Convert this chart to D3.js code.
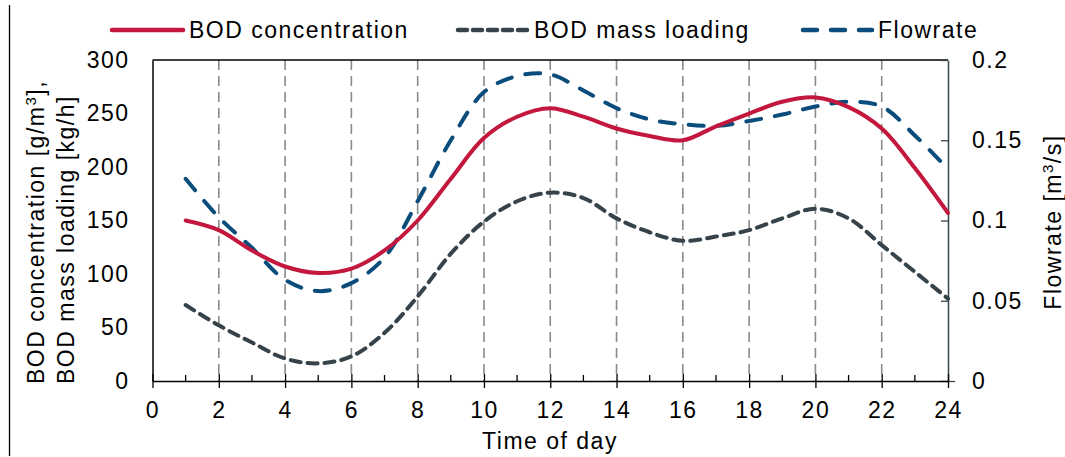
<!DOCTYPE html>
<html><head><meta charset="utf-8">
<script src="https://cdn.jsdelivr.net/npm/d3@7"></script>
<style>
body{margin:0;background:#fff;}
text{font-family:"Liberation Sans",Arial,sans-serif;fill:#000;letter-spacing:1.5px;}
</style></head>
<body><svg id="c" width="1065" height="457"></svg>
<script>
const hours = [1,2,3,4,5,6,7,8,9,10,11,12,13,14,15,16,17,18,19,20,21,22,23,24];
const bodConcentration = [150,141,122,107,101,105,122,150,189,227,247,255,247,236,229,225,238,250,261,265,256,236,199,157];
const bodMassLoading = [71,52,36,21,16.5,23,45,79,119,149,168,176,171,152,139,131,135,141,152,161,152,127,102,77];
const flowrate = [0.126,0.102,0.083,0.063,0.056,0.061,0.077,0.112,0.150,0.180,0.190,0.191,0.181,0.170,0.163,0.160,0.159,0.162,0.166,0.171,0.174,0.171,0.153,0.132];
const xTicks = [0,2,4,6,8,10,12,14,16,18,20,22,24];
const leftTicks = [0,50,100,150,200,250,300];
const rightTicks = [0,0.05,0.1,0.15,0.2];
const gridHours = [2,4,6,8,10,12,14,16,18,20,22];

const svg = d3.select("#c");
const L=152.5, R=948, T=60, B=381;
const x = d3.scaleLinear().domain([0,24]).range([L,R]);
const yL = d3.scaleLinear().domain([0,300]).range([B,T]);
const yR = d3.scaleLinear().domain([0,0.2]).range([B,T]);
const FS = 23;

// left frame line
svg.append("line").attr("x1",9.5).attr("x2",9.5).attr("y1",5).attr("y2",456).attr("stroke","#000").attr("stroke-width",1.3);

// grid
svg.append("g").selectAll("line").data(gridHours).join("line")
  .attr("x1",d=>x(d)).attr("x2",d=>x(d)).attr("y1",T).attr("y2",B)
  .attr("stroke","#8a8a8a").attr("stroke-width",1.6).attr("stroke-dasharray","10,6");

// top border
svg.append("line").attr("x1",L).attr("x2",R).attr("y1",T).attr("y2",T).attr("stroke","#000").attr("stroke-width",1.3);

// left axis
const gl = svg.append("g").attr("transform",`translate(${L},0)`)
  .call(d3.axisLeft(yL).tickValues(leftTicks).tickSize(0).tickPadding(23).tickFormat(d3.format("d")));
gl.select(".domain").attr("stroke","#000").attr("stroke-width",1.5);
gl.selectAll("text").style("font-size",FS+"px").style("font-family","Liberation Sans, Arial");

// right axis
const gr = svg.append("g").attr("transform",`translate(${R},0)`)
  .call(d3.axisRight(yR).tickValues(rightTicks).tickSize(0).tickPadding(24).tickFormat(d=>d===0?"0":String(+d.toFixed(2))));
gr.select(".domain").attr("stroke","#37444c").attr("stroke-width",1.5);
gr.selectAll("text").style("font-size",FS+"px").style("font-family","Liberation Sans, Arial");
gr.selectAll(".tick").append("line").attr("x1",-7).attr("x2",d=>d===0?7:0).attr("stroke","#37444c").attr("stroke-width",1.3);

// bottom axis
const gb = svg.append("g").attr("transform",`translate(0,${B})`)
  .call(d3.axisBottom(x).tickValues(xTicks).tickSize(0).tickPadding(21).tickFormat(d3.format("d")));
gb.select(".domain").attr("stroke","#000").attr("stroke-width",1.5);
gb.selectAll("text").style("font-size",FS+"px").style("font-family","Liberation Sans, Arial");
gb.selectAll(".tick").append("line").attr("y1",-7).attr("y2",7).attr("stroke","#000").attr("stroke-width",1.3);
svg.append("g").attr("transform",`translate(0,${B})`).selectAll("line").data(hours.filter(h=>h%2===1)).join("line")
  .attr("x1",d=>x(d)).attr("x2",d=>x(d)).attr("y1",-6).attr("y2",0).attr("stroke","#000").attr("stroke-width",1.3);

// lines
const curve = d3.curveCatmullRom.alpha(0.5);
const lineL = d3.line().x((d,i)=>x(hours[i])).y(d=>yL(d)).curve(curve);
const lineR = d3.line().x((d,i)=>x(hours[i])).y(d=>yR(d)).curve(curve);
svg.append("path").datum(bodMassLoading).attr("d",lineL).attr("fill","none")
  .attr("stroke","#36434b").attr("stroke-width",4).attr("stroke-dasharray","10,7").attr("stroke-linecap","round");
svg.append("path").datum(flowrate).attr("d",lineR).attr("fill","none")
  .attr("stroke","#0a4d7c").attr("stroke-width",4).attr("stroke-dasharray","15,14").attr("stroke-linecap","round");
svg.append("path").datum(bodConcentration).attr("d",lineL).attr("fill","none")
  .attr("stroke","#c3173e").attr("stroke-width",4).attr("stroke-linecap","round");

// legend
const legend = [
  {name:"BOD concentration", color:"#c3173e", dash:null, x1:112, x2:183},
  {name:"BOD mass loading", color:"#36434b", dash:"9,6", x1:458, x2:528},
  {name:"Flowrate", color:"#0a4d7c", dash:"14,14", x1:803, x2:872}
];
const lg = svg.append("g");
legend.forEach(l=>{
  lg.append("line").attr("x1",l.x1).attr("x2",l.x2).attr("y1",30).attr("y2",30)
    .attr("stroke",l.color).attr("stroke-width",4.5).attr("stroke-linecap","round")
    .attr("stroke-dasharray",l.dash);
  lg.append("text").attr("x",l.x2+6).attr("y",30).attr("dy","0.35em").style("font-size",FS+"px").text(l.name);
});

// axis titles
const yt = svg.append("text").attr("transform","rotate(-90)").style("font-size",FS+"px").attr("text-anchor","start")
  .attr("x",-384).attr("y",44);
yt.append("tspan").text("BOD concentration [g/m");
yt.append("tspan").attr("baseline-shift","super").style("font-size","15px").text("3");
yt.append("tspan").text("],");
svg.append("text").attr("transform","rotate(-90)").style("font-size",FS+"px").attr("text-anchor","start")
  .attr("x",-384).attr("y",74).text("BOD mass loading [kg/h]");

const rt = svg.append("text").attr("transform","rotate(-90)").style("font-size",FS+"px").attr("text-anchor","middle")
  .attr("x",-222).attr("y",1061);
rt.append("tspan").text("Flowrate  [m");
rt.append("tspan").attr("baseline-shift","super").style("font-size","15px").text("3");
rt.append("tspan").text("/s]");

svg.append("text").attr("x",550).attr("y",449).attr("text-anchor","middle").style("font-size",FS+"px").text("Time of day");
</script></body></html>
